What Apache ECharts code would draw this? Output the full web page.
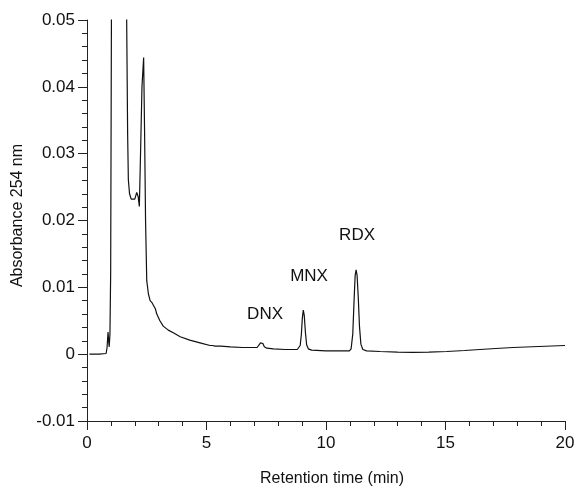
<!DOCTYPE html>
<html>
<head>
<meta charset="utf-8">
<script src="https://cdn.jsdelivr.net/npm/echarts@6/dist/echarts.min.js"></script>
<style>
html,body{margin:0;padding:0;background:#fff;}
#c{width:578px;height:492px;}
</style>
</head>
<body>
<div id="c"></div>
<script>
// Retention time (min)
const times = [
  0.10, 0.50, 0.80, 0.84, 0.88, 0.91, 0.93, 0.96, 0.99, 1.03, 1.06, 1.20, 1.50, 1.62, 1.66,
  1.70, 1.73, 1.78, 1.85, 1.91, 2.00, 2.08, 2.14, 2.19, 2.24, 2.30, 2.37, 2.41, 2.45, 2.50,
  2.57, 2.64, 2.72, 2.80, 2.86, 2.92, 3.05, 3.19, 3.40, 3.61, 3.90, 4.30, 4.73, 5.15, 5.25,
  5.30, 5.36, 5.60, 6.00, 6.50, 7.00, 7.12, 7.20, 7.26, 7.31, 7.36, 7.42, 7.52, 7.80, 8.30,
  8.80, 8.86, 8.92, 8.97, 9.01, 9.05, 9.09, 9.14, 9.19, 9.26, 9.40, 10.00, 10.60, 10.98,
  11.05, 11.12, 11.18, 11.22, 11.26, 11.30, 11.35, 11.40, 11.46, 11.54, 11.70, 12.26, 13.00,
  13.64, 14.30, 15.05, 15.80, 16.44, 17.10, 17.83, 18.90, 20.00
];
// Absorbance 254 nm (AU)
const absorbance = [
  0.0000, 0.0000, 0.0001, 0.0010, 0.0033, 0.0018, 0.0011, 0.0030, 0.0120, 0.0600, 0.2000, 0.3000, 0.3000, 0.1500, 0.0500,
  0.0330, 0.0261, 0.0240, 0.0232, 0.0230, 0.0232, 0.0242, 0.0236, 0.0221, 0.0300, 0.0400, 0.0444, 0.0330, 0.0200, 0.0110,
  0.0090, 0.0080, 0.0077, 0.0075, 0.0068, 0.0060, 0.0050, 0.0042, 0.0036, 0.0032, 0.0026, 0.0021, 0.0017, 0.0013, 0.0013,
  0.0015, 0.0012, 0.0012, 0.0011, 0.0010, 0.0010, 0.0010, 0.0012, 0.0017, 0.0019, 0.0016, 0.0011, 0.0009, 0.0008, 0.0007,
  0.0007, 0.0008, 0.0013, 0.0030, 0.0054, 0.0066, 0.0058, 0.0032, 0.0014, 0.0008, 0.0006, 0.0005, 0.0005, 0.0005,
  0.0008, 0.0030, 0.0085, 0.0118, 0.0126, 0.0118, 0.0085, 0.0042, 0.0015, 0.0007, 0.0005, 0.0004, 0.0003,
  0.00028, 0.0003, 0.0004, 0.00055, 0.0007, 0.00085, 0.0010, 0.00115, 0.0013
];
// Peak annotations
const peakNames = ['DNX', 'MNX', 'RDX'];
const peakLabelX = [7.45, 9.29, 11.30];
const peakLabelY = [0.0060, 0.0116, 0.0178];
// Axis ticks
const xTicks = [0, 5, 10, 15, 20];
const yTicks = [-0.01, 0, 0.01, 0.02, 0.03, 0.04, 0.05];

const FONT = 'Liberation Sans, Arial, sans-serif';
const chart = echarts.init(document.getElementById('c'), null, {renderer: 'canvas'});

const lineData = times.map((t, i) => [t, absorbance[i]]);
const labelData = peakNames.map((n, i) => ({name: n, value: [peakLabelX[i], peakLabelY[i]]}));

chart.setOption({
  animation: false,
  backgroundColor: '#ffffff',
  grid: {left: 87, right: 13, top: 20, bottom: 70, containLabel: false},
  xAxis: {
    type: 'value',
    min: xTicks[0], max: xTicks[xTicks.length - 1], interval: 5,
    name: 'Retention time (min)',
    nameLocation: 'middle', nameGap: 50,
    nameTextStyle: {fontFamily: FONT, fontSize: 16, color: '#111', padding: [0, 0, 0, 12]},
    axisLine: {show: true, onZero: false, lineStyle: {color: '#222', width: 1}},
    axisTick: {show: true, length: 9, lineStyle: {color: '#222'}},
    minorTick: {show: true, splitNumber: 5, length: 5, lineStyle: {color: '#222'}},
    axisLabel: {fontFamily: FONT, fontSize: 17, color: '#111', margin: 14},
    splitLine: {show: false}
  },
  yAxis: {
    type: 'value',
    min: yTicks[0], max: yTicks[yTicks.length - 1], interval: 0.01,
    name: 'Absorbance 254 nm',
    nameLocation: 'middle', nameGap: 60,
    nameTextStyle: {fontFamily: FONT, fontSize: 16, color: '#111', padding: [0, 0, 0, 10]},
    axisLine: {show: true, onZero: false, lineStyle: {color: '#222', width: 1}},
    axisTick: {show: true, length: 9, lineStyle: {color: '#222'}},
    minorTick: {show: true, splitNumber: 5, length: 5, lineStyle: {color: '#222'}},
    axisLabel: {
      fontFamily: FONT, fontSize: 17, color: '#111', margin: 12,
      formatter: v => Math.abs(v) < 1e-9 ? '0' : v.toFixed(2)
    },
    splitLine: {show: false}
  },
  series: [
    {
      type: 'line',
      data: lineData,
      showSymbol: false,
      symbol: 'none',
      clip: true,
      lineStyle: {color: '#111', width: 1.2},
      z: 2
    },
    {
      type: 'scatter',
      data: labelData,
      symbolSize: 0,
      silent: true,
      itemStyle: {opacity: 1},
      label: {
        show: true,
        position: 'inside',
        formatter: p => p.name,
        fontFamily: FONT, fontSize: 17, color: '#111',
        textBorderWidth: 0
      },
      z: 3
    }
  ]
});
</script>
</body>
</html>
